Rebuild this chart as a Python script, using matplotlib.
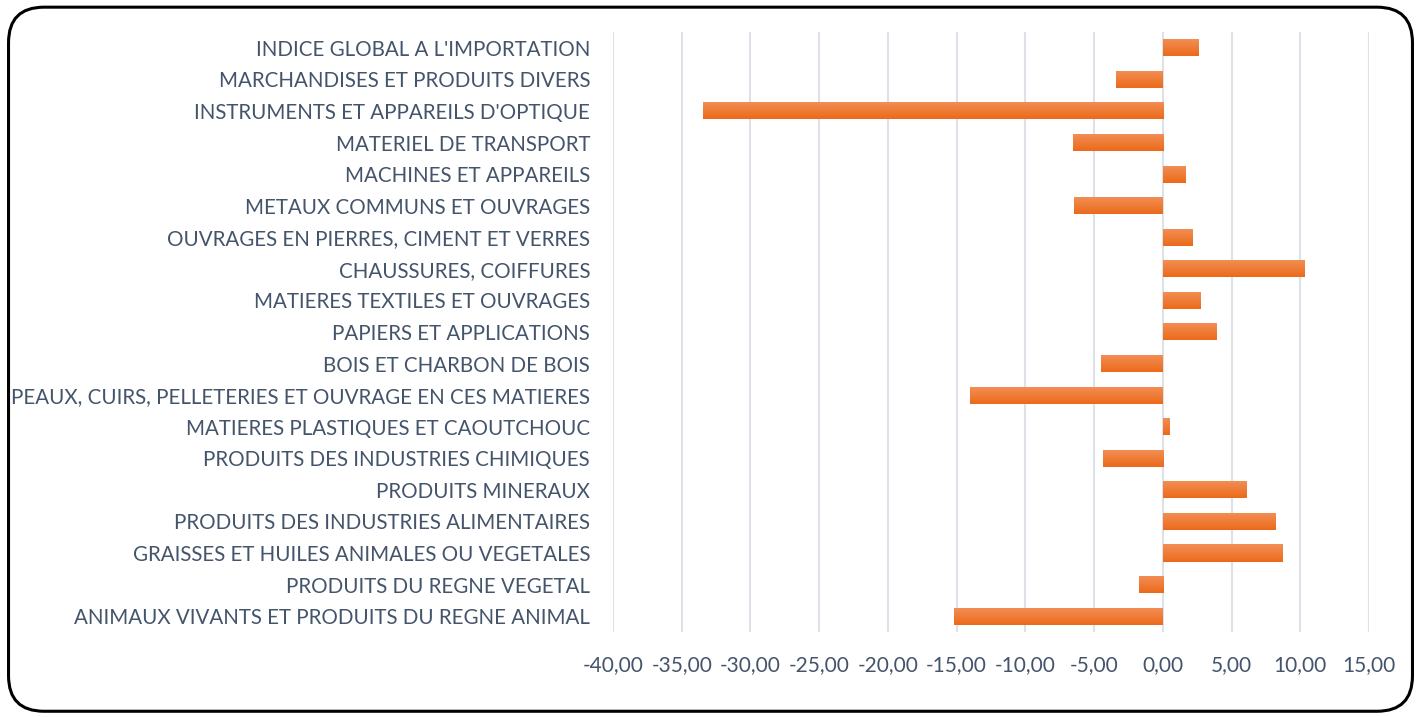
import numpy as np
import matplotlib.pyplot as plt
from matplotlib.patches import FancyBboxPatch
from matplotlib.colors import LinearSegmentedColormap

# categories from bottom to top
categories = [
    "ANIMAUX VIVANTS ET PRODUITS DU REGNE ANIMAL",
    "PRODUITS DU REGNE VEGETAL",
    "GRAISSES ET HUILES ANIMALES OU VEGETALES",
    "PRODUITS DES INDUSTRIES ALIMENTAIRES",
    "PRODUITS MINERAUX",
    "PRODUITS DES INDUSTRIES CHIMIQUES",
    "MATIERES PLASTIQUES ET CAOUTCHOUC",
    "PEAUX, CUIRS, PELLETERIES ET OUVRAGE EN CES MATIERES",
    "BOIS ET CHARBON DE BOIS",
    "PAPIERS ET APPLICATIONS",
    "MATIERES TEXTILES ET OUVRAGES",
    "CHAUSSURES, COIFFURES",
    "OUVRAGES EN PIERRES, CIMENT ET VERRES",
    "METAUX COMMUNS ET OUVRAGES",
    "MACHINES ET APPAREILS",
    "MATERIEL DE TRANSPORT",
    "INSTRUMENTS ET APPAREILS D'OPTIQUE",
    "MARCHANDISES ET PRODUITS DIVERS",
    "INDICE GLOBAL A L'IMPORTATION",
]
values = [-15.2, -1.75, 8.73, 8.15, 6.11, -4.37, 0.44, -14.04, -4.51, 3.86,
          2.76, 10.33, 2.18, -6.47, 1.67, -6.55, -33.47, -3.4, 2.55]
xticks = np.arange(-40, 16, 5)

text_color = "#44546A"
plt.rcParams['font.family'] = ['Lato', 'DejaVu Sans']

fig = plt.figure(figsize=(14.21, 7.17), dpi=100)
ax = fig.add_axes([0.4314, 0.1186, 0.532, 0.8368])

# orange bars, slightly lighter at the top
grad = LinearSegmentedColormap.from_list("org", ["#EC6A1A", "#F29058"])
img = np.linspace(0, 1, 50).reshape(-1, 1)
bar_h = 0.54
bars = ax.barh(range(len(categories)), values, height=bar_h, color="none", zorder=3)
for b in bars:
    x0, y0 = b.get_x(), b.get_y()
    w, h = b.get_width(), b.get_height()
    im = ax.imshow(img, cmap=grad, aspect="auto", origin="lower",
                   extent=[x0, x0 + w, y0, y0 + h], zorder=3)
    im.set_clip_path(b)

ax.set_xlim(-40, 15)
ax.set_ylim(-0.5, len(categories) - 0.5)
ax.set_xticks(xticks)
ax.set_xticklabels([f"{v:.2f}".replace(".", ",") for v in xticks])
ax.set_yticks(range(len(categories)))
ax.set_yticklabels(categories)
ax.tick_params(axis="both", length=0, colors=text_color)
ax.tick_params(axis="y", pad=16.5, labelsize=14.8)
ax.tick_params(axis="x", pad=17, labelsize=15)
ax.grid(axis="x", color="#DDE2E9", linewidth=1.5, zorder=0)
ax.set_axisbelow(True)
for s in ax.spines.values():
    s.set_visible(False)

border = FancyBboxPatch((0.006, 0.008), 0.988, 0.982, transform=fig.transFigure,
                        boxstyle="round,pad=0,rounding_size=0.025",
                        mutation_aspect=1421 / 717,
                        facecolor="none", edgecolor="black", linewidth=2.2)
fig.patches.append(border)

fig.savefig("out.png", dpi=100)
